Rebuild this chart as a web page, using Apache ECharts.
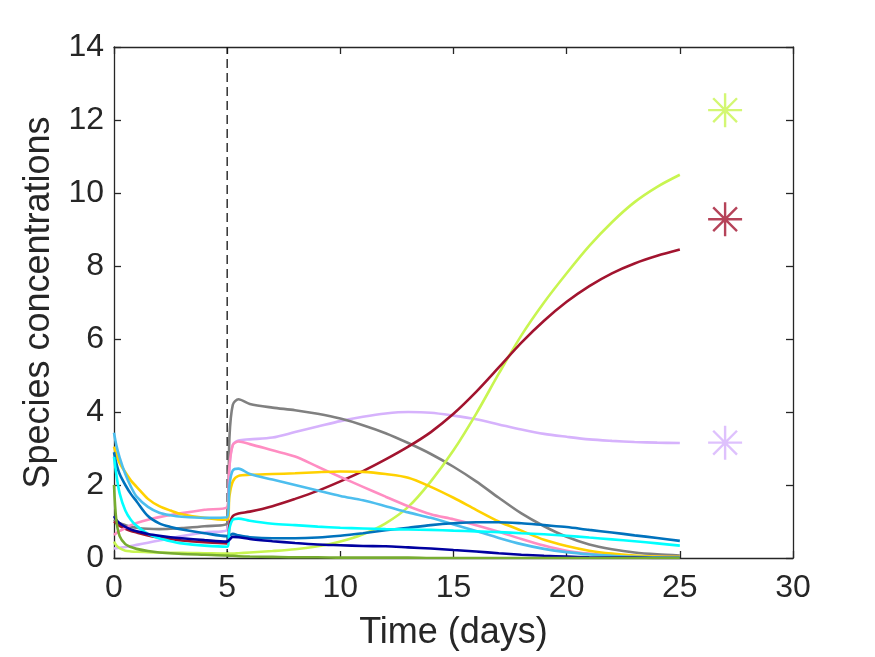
<!DOCTYPE html>
<html>
<head>
<meta charset="utf-8">
<script src="https://cdn.jsdelivr.net/npm/echarts@6/dist/echarts.min.js"></script>
<style>html,body{margin:0;padding:0;background:#fff}#c{width:875px;height:657px}</style>
</head>
<body>
<div id="c"></div>
<script>
// ---- data ----
const times = [0,0.1,0.25,0.5,0.75,1,1.5,2,2.5,3,4,5,5.1,5.25,5.5,6,7,8,9,10,11,12,13,14,15,16,17,18,19,20,21,22,23,24,25];
const lightBlue = [3.43,3.1,2.75,2.3,1.95,1.68,1.4,1.24,1.17,1.13,1.1,1.12,2.0,2.4,2.45,2.3,2.15,2.0,1.85,1.7,1.58,1.42,1.25,1.1,0.92,0.74,0.55,0.38,0.25,0.16,0.1,0.06,0.03,0.02,0.01];
const yellow = [3.05,2.85,2.6,2.35,2.12,1.95,1.62,1.42,1.3,1.2,1.1,1.05,1.7,2.1,2.25,2.28,2.3,2.32,2.35,2.37,2.36,2.3,2.2,1.95,1.65,1.32,1.0,0.75,0.5,0.33,0.2,0.12,0.07,0.04,0.03];
const mediumBlue = [2.9,2.6,2.3,2.0,1.75,1.55,1.15,0.95,0.85,0.78,0.68,0.6,0.62,0.66,0.62,0.57,0.54,0.54,0.56,0.61,0.68,0.76,0.83,0.9,0.95,0.98,0.98,0.95,0.9,0.85,0.77,0.7,0.62,0.55,0.47];
const cyan = [2.77,2.3,1.77,1.3,1.04,0.88,0.66,0.54,0.46,0.4,0.34,0.31,0.8,1.05,1.08,1.02,0.94,0.9,0.86,0.83,0.81,0.79,0.78,0.77,0.75,0.73,0.71,0.68,0.65,0.61,0.56,0.51,0.46,0.4,0.34];
const darkBlue = [1.15,1.05,0.95,0.85,0.78,0.73,0.66,0.61,0.57,0.54,0.49,0.45,0.5,0.58,0.57,0.52,0.46,0.41,0.37,0.35,0.33,0.32,0.29,0.26,0.22,0.18,0.13,0.09,0.06,0.04,0.02,0.01,0.01,0,0];
const darkRed = [1.0,0.95,0.88,0.8,0.74,0.7,0.62,0.56,0.52,0.48,0.43,0.4,0.9,1.15,1.22,1.27,1.42,1.62,1.84,2.1,2.38,2.7,3.05,3.45,3.95,4.55,5.22,5.9,6.5,7.02,7.45,7.8,8.07,8.28,8.45];
const lightGreen = [0.45,0.35,0.27,0.2,0.18,0.17,0.16,0.15,0.14,0.14,0.13,0.12,0.12,0.12,0.13,0.15,0.19,0.24,0.32,0.45,0.65,0.95,1.4,2.1,2.95,3.95,5.05,6.1,7.0,7.8,8.55,9.2,9.75,10.17,10.5];
const lavender = [0.26,0.27,0.28,0.3,0.33,0.36,0.42,0.48,0.54,0.6,0.7,0.78,2.5,3.1,3.22,3.25,3.3,3.45,3.6,3.75,3.87,3.96,4.0,3.98,3.9,3.8,3.66,3.52,3.4,3.32,3.25,3.21,3.18,3.16,3.15];
const gray = [1.05,1.0,0.95,0.9,0.86,0.83,0.8,0.79,0.8,0.82,0.87,0.95,3.3,4.2,4.35,4.22,4.12,4.05,3.95,3.82,3.64,3.42,3.15,2.85,2.5,2.1,1.65,1.22,0.87,0.58,0.37,0.24,0.15,0.1,0.07];
const pink = [0.63,0.68,0.74,0.82,0.9,0.96,1.05,1.12,1.18,1.23,1.32,1.4,2.5,3.1,3.19,3.12,2.95,2.78,2.5,2.22,1.95,1.68,1.42,1.2,1.06,0.9,0.72,0.52,0.34,0.2,0.12,0.07,0.04,0.03,0.02];
const olive = [2.0,1.05,0.6,0.38,0.3,0.25,0.19,0.15,0.13,0.11,0.09,0.07,0.06,0.06,0.05,0.04,0.03,0.02,0.02,0.01,0.01,0.01,0.01,0,0,0,0,0,0,0,0,0,0,0,0];
const markerTime = 27;
const markerLightGreen = 12.27;
const markerDarkRed = 9.28;
const markerLavender = 3.16;
const dividerTime = 5;
const xTicks = [0,5,10,15,20,25,30];
const yTicks = [0,2,4,6,8,10,12,14];

// ---- chart ----
const FONT = '"Liberation Sans", Arial, Helvetica, sans-serif';
const AX = '#262626';
const curves = [
  {name:'lavender', v:lavender, c:'#d6b2fc'},
  {name:'gray', v:gray, c:'#808080'},
  {name:'lightGreen', v:lightGreen, c:'#c8f550'},
  {name:'darkRed', v:darkRed, c:'#a2142f'},
  {name:'pink', v:pink, c:'#ff8dc2'},
  {name:'yellow', v:yellow, c:'#ffd100'},
  {name:'lightBlue', v:lightBlue, c:'#4dbeee'},
  {name:'mediumBlue', v:mediumBlue, c:'#0072bd'},
  {name:'cyan', v:cyan, c:'#00ffff'},
  {name:'darkBlue', v:darkBlue, c:'#0000a0'},
  {name:'olive', v:olive, c:'#77ac30'}
];
const series = curves.map(s => ({
  name: s.name, type: 'line', showSymbol: false, smooth: 0.3,
  data: times.map((t, i) => [t, s.v[i]]),
  lineStyle: {color: s.c, width: 2.6}, itemStyle: {color: s.c}, z: 3
}));
series.push({
  name: 'divider', type: 'line', showSymbol: false, silent: true,
  data: [[dividerTime, yTicks[0]], [dividerTime, yTicks[yTicks.length - 1]]],
  lineStyle: {color: '#111', width: 1.3, type: [9, 5]}, z: 2
});
const star = 'path://M0,-1L0,1M-1,0L1,0M-0.7,-0.7L0.7,0.7M-0.7,0.7L0.7,-0.7';
[[markerLightGreen,'#c8f550'],[markerDarkRed,'#a2142f'],[markerLavender,'#d6b2fc']].forEach(([v,c]) => {
  series.push({
    type: 'scatter', data: [[markerTime, v]], symbol: star, symbolSize: 34,
    itemStyle: {color: 'none', borderColor: c, borderWidth: 2.4}, z: 4
  });
});
const axBase = {
  type: 'value', min: xTicks[0], max: xTicks[xTicks.length-1], interval: 5,
  splitLine: {show: false},
  axisLine: {show: true, onZero: false, lineStyle: {color: AX, width: 1.3}},
  axisTick: {show: true, inside: true, length: 7, lineStyle: {color: AX, width: 1.3}}
};
const option = {
  animation: false,
  backgroundColor: '#fff',
  grid: {left: 114, right: 82, top: 47, bottom: 99, containLabel: false},
  xAxis: [
    Object.assign({}, axBase, {
      position: 'bottom',
      name: 'Time (days)', nameLocation: 'middle', nameGap: 57,
      nameTextStyle: {fontFamily: FONT, fontSize: 36, color: AX},
      axisLabel: {show: true, margin: 14, fontFamily: FONT, fontSize: 32, color: AX}
    }),
    Object.assign({}, axBase, {position: 'top', axisLabel: {show: false}})
  ],
  yAxis: [
    Object.assign({}, axBase, {
      min: yTicks[0], max: yTicks[yTicks.length-1], interval: 2,
      position: 'left',
      name: 'Species concentrations', nameLocation: 'middle', nameGap: 51,
      nameTextStyle: {fontFamily: FONT, fontSize: 36, color: AX},
      axisLabel: {show: true, margin: 10, fontFamily: FONT, fontSize: 32, color: AX}
    }),
    Object.assign({}, axBase, {
      min: yTicks[0], max: yTicks[yTicks.length-1], interval: 2,
      position: 'right', axisLabel: {show: false}
    })
  ],
  series: series
};
const chart = echarts.init(document.getElementById('c'), null, {renderer: 'canvas'});
chart.setOption(option);
</script>
</body>
</html>
